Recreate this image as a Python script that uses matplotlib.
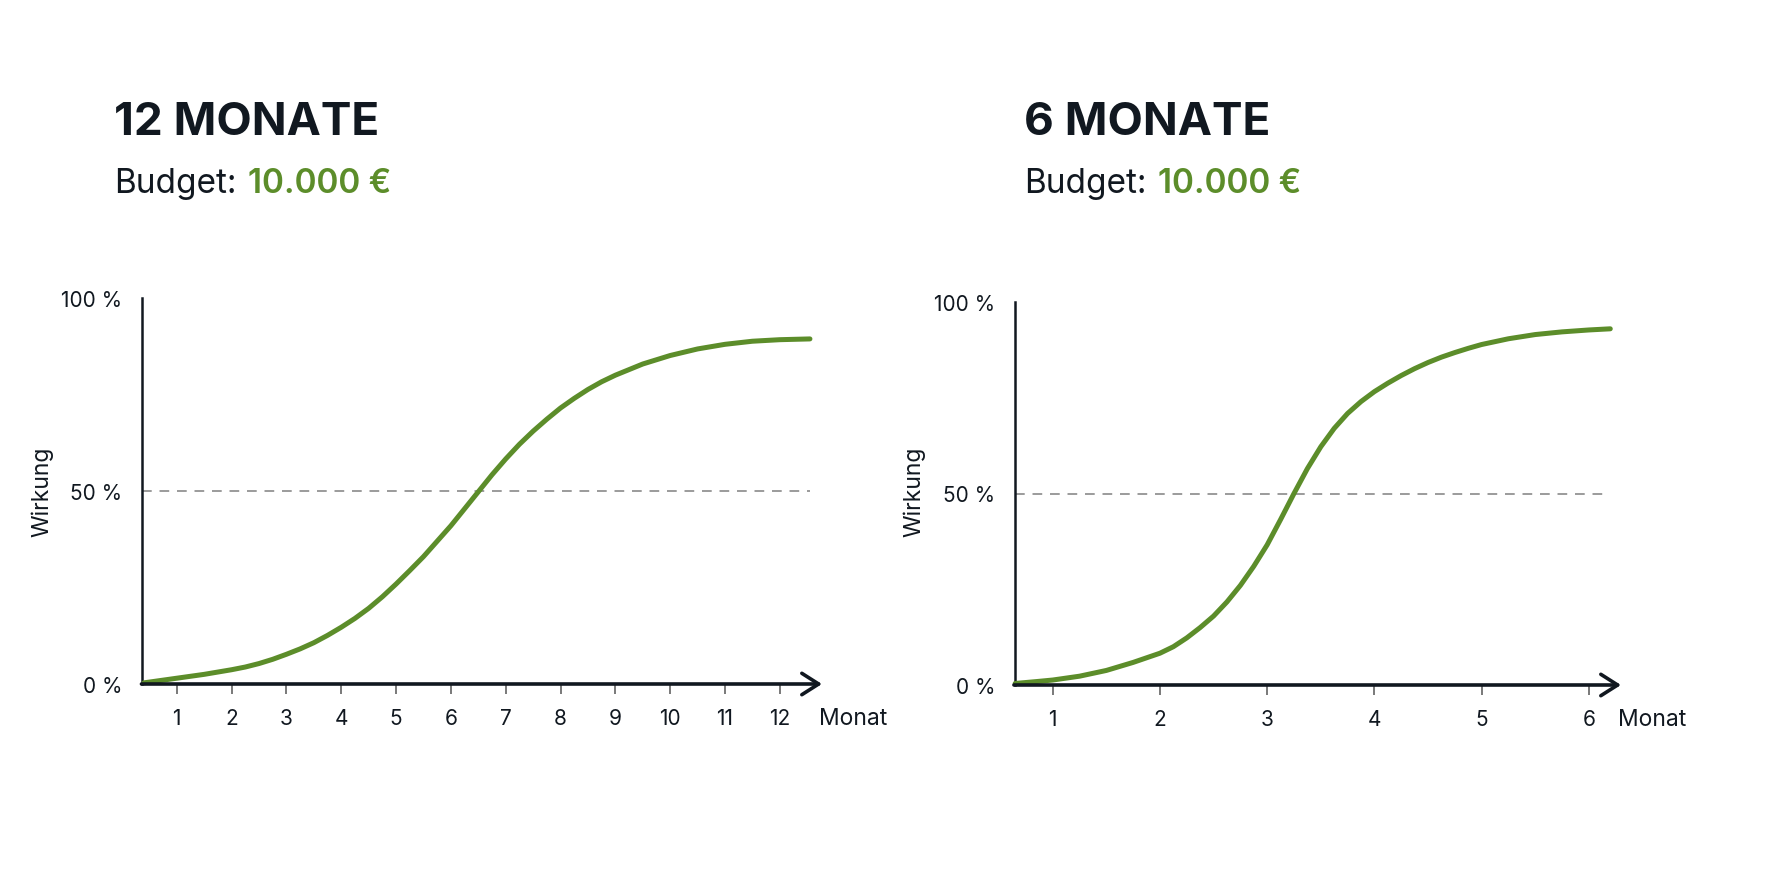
import matplotlib.pyplot as plt

plt.rcParams['font.family'] = ['Inter', 'DejaVu Sans']

GREEN = '#5c8d2a'
DARK = '#111820'
GRAY = '#9b9b9b'

# 12-month campaign: month vs. effect in %
months_12 = [0.4, 1.0, 1.5, 2.0, 2.25, 2.5, 2.75, 3.0, 3.25, 3.5, 3.75, 4.0, 4.25, 4.5,
             4.75, 5.0, 5.25, 5.5, 5.75, 6.0, 6.25, 6.5, 6.75, 7.0, 7.25, 7.5, 7.75,
             8.0, 8.25, 8.5, 8.75, 9.0, 9.5, 10.0, 10.5, 11.0, 11.5, 12.0, 12.55]
wirkung_12 = [0.3, 1.5, 2.5, 3.7, 4.4, 5.3, 6.4, 7.7, 9.1, 10.7, 12.6, 14.7, 17.0, 19.6,
              22.6, 25.9, 29.4, 33.0, 37.0, 41.0, 45.4, 49.8, 54.2, 58.3, 62.1, 65.5, 68.6,
              71.5, 74.0, 76.3, 78.3, 80.0, 82.9, 85.1, 86.8, 88.0, 88.8, 89.2, 89.4]

# 6-month campaign
months_6 = [0.65, 0.85, 1.0, 1.25, 1.5, 1.75, 2.0, 2.125, 2.25, 2.375, 2.5, 2.625, 2.75,
            2.875, 3.0, 3.125, 3.25, 3.375, 3.5, 3.625, 3.75, 3.875, 4.0, 4.125, 4.25,
            4.375, 4.5, 4.625, 4.75, 4.875, 5.0, 5.25, 5.5, 5.75, 6.0, 6.2]
wirkung_6 = [0.4, 0.9, 1.3, 2.3, 3.8, 5.9, 8.3, 10.0, 12.3, 15.0, 18.0, 21.7, 26.0,
             31.0, 36.6, 43.2, 50.0, 56.5, 62.2, 67.0, 70.9, 74.0, 76.6, 78.8, 80.8,
             82.6, 84.2, 85.6, 86.8, 87.9, 88.9, 90.4, 91.5, 92.2, 92.7, 93.0]

panels = [
    dict(title='12 MONATE', budget='10.000 €', months=months_12, values=wirkung_12,
         ticks=list(range(1, 13)), xlim=(0.365, 12.77),
         rect=[142 / 1774, 202 / 887, 680 / 1774, 386 / 887], tx=114, wx=42),
    dict(title='6 MONATE', budget='10.000 €', months=months_6, values=wirkung_6,
         ticks=list(range(1, 7)), xlim=(0.648, 6.30),
         rect=[1015 / 1774, 201 / 887, 606 / 1774, 383 / 887], tx=1024, wx=914),
]

fig = plt.figure(figsize=(17.74, 8.87), dpi=100)
fig.patch.set_facecolor('white')

for p in panels:
    ax = fig.add_axes(p['rect'])
    ax.set_xlim(*p['xlim'])
    ax.set_ylim(0, 100)

    # reference line at 50 %
    ax.hlines(50, p['xlim'][0], p['months'][-1], colors=GRAY, linestyles=(0, (5, 4)), lw=1.4)
    ax.plot(p['months'], p['values'], color=GREEN, lw=3.6, solid_capstyle='round',
            solid_joinstyle='round', clip_on=False, zorder=3)

    for s in ['top', 'right', 'bottom']:
        ax.spines[s].set_visible(False)
    ax.spines['left'].set_linewidth(1.8)
    ax.spines['left'].set_color(DARK)

    # x axis with arrow head
    ax.annotate('', xy=(p['xlim'][1], 0), xytext=(p['xlim'][0] - 0.01, 0),
                xycoords='data', annotation_clip=False,
                arrowprops=dict(arrowstyle='->,head_length=0.55,head_width=0.35',
                                lw=2.6, color=DARK, mutation_scale=22,
                                shrinkA=0, shrinkB=0))

    ax.set_xticks(p['ticks'])
    ax.set_xticklabels([str(t) for t in p['ticks']])
    ax.tick_params(axis='x', direction='out', length=7.5, width=1.1, color='#555555',
                   pad=10, labelsize=15, labelcolor=DARK)
    ax.set_yticks([0, 50, 100])
    ax.set_yticklabels(['0 %', '50 %', '100 %'])
    ax.tick_params(axis='y', length=0, pad=14, labelsize=15, labelcolor=DARK)

    ax.text(0.995, -0.088, 'Monat', transform=ax.transAxes, fontsize=16.5, color=DARK,
            ha='left', va='center')
    fig.text(p['wx'] / 1774, 1 - 492 / 887, 'Wirkung', rotation=90, fontsize=16.5,
             color=DARK, ha='center', va='center')

    fig.text(p['tx'] / 1774, 1 - 135 / 887, p['title'], fontsize=33, fontweight='bold',
             color=DARK, ha='left', va='baseline')
    t1 = fig.text(p['tx'] / 1774, 1 - 193 / 887, 'Budget:', fontsize=24, color=DARK,
                  ha='left', va='baseline')
    ax.annotate(p['budget'], xy=(1, 0), xytext=(8, 0), xycoords=t1,
                textcoords='offset points', fontsize=24, fontweight='semibold',
                color=GREEN, ha='left', va='bottom', annotation_clip=False)

fig.savefig('out.png', dpi=100, facecolor='white')
